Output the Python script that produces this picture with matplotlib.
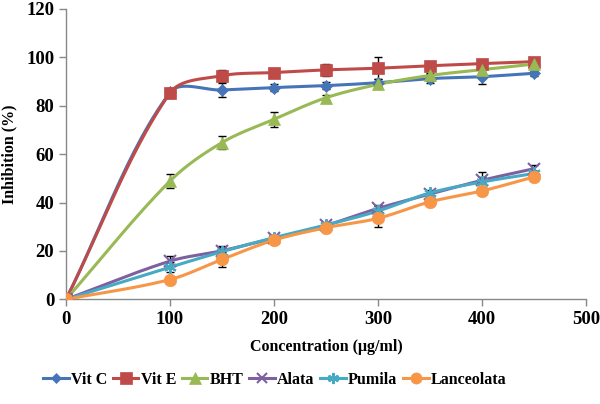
import numpy as np
import matplotlib
matplotlib.use("Agg")
import matplotlib.pyplot as plt

# data
conc = [0, 100, 150, 200, 250, 300, 350, 400, 450]
series_names = ["Vit C", "Vit E", "BHT", "Alata", "Pumila", "Lanceolata"]
vit_c = [0, 85.5, 86.5, 87.5, 88.3, 89.5, 91.2, 92.0, 93.4]
vit_e = [0, 85.3, 92.4, 93.7, 94.8, 95.5, 96.5, 97.4, 98.2]
bht = [0, 48.9, 64.8, 74.4, 83.3, 88.8, 92.5, 94.9, 97.2]
alata = [0, 15.8, 20.1, 25.3, 30.6, 37.6, 43.5, 49.2, 54.0]
pumila = [0, 13.3, 19.7, 25.5, 30.7, 36.5, 44.0, 48.5, 52.0]
lanceolata = [0, 8.2, 16.5, 24.5, 29.6, 33.5, 40.3, 44.8, 50.6]

err_vit_c = [0, 1.5, 3, 1.5, 1.5, 1.5, 2, 3, 1]
err_vit_e = [0, 2, 2.5, 1, 2.5, 4.5, 1, 1.5, 1]
err_bht = [0, 3, 2.5, 3, 1, 1, 1, 1, 1]
err_alata = [0, 2, 2, 1, 1, 1.5, 1, 3.5, 1.5]
err_pumila = [0, 2, 2, 1, 1, 2, 1, 2, 1]
err_lanceolata = [0, 1, 3, 1, 1, 3.5, 1.5, 1, 1]

colors = ["#4674B8", "#BE4B48", "#98B954", "#7D60A0", "#46AAC5", "#F79646"]
markers = ["D", "s", "^", "x", (6, 2, 0), "o"]
msizes = [6, 9, 9, 8, 9, 9]

# pixels per data unit, so the smoothing is done in screen space like Excel
SX, SY = 1.04, 2.42


def smooth(x, y, n=30):
    # Excel-style smoothed line: bezier through the points, tangents weighted by segment length
    p = np.column_stack([np.asarray(x) * SX, np.asarray(y) * SY]).astype(float)
    p = np.vstack([p[0], p, p[-1]])
    out = []
    for i in range(1, len(p) - 2):
        p0, p1, p2, p3 = p[i - 1], p[i], p[i + 1], p[i + 2]
        d01 = np.hypot(*(p1 - p0))
        d12 = np.hypot(*(p2 - p1))
        d23 = np.hypot(*(p3 - p2))
        c1 = p1 + (p2 - p0) * d12 / (3.0 * (d01 + d12))
        c2 = p2 - (p3 - p1) * d12 / (3.0 * (d12 + d23))
        t = np.linspace(0, 1, n)[:, None]
        b = ((1 - t) ** 3) * p1 + 3 * ((1 - t) ** 2) * t * c1 + 3 * (1 - t) * t ** 2 * c2 + t ** 3 * p2
        out.append(b)
    out = np.vstack(out)
    return out[:, 0] / SX, out[:, 1] / SY


plt.rcParams['font.family'] = ['Liberation Serif', 'DejaVu Serif']
plt.rcParams['font.weight'] = 'bold'

fig = plt.figure(figsize=(6, 4.04), dpi=100)
ax = fig.add_axes([0.11, 0.259, 0.867, 0.719])

all_y = [vit_c, vit_e, bht, alata, pumila, lanceolata]
all_err = [err_vit_c, err_vit_e, err_bht, err_alata, err_pumila, err_lanceolata]

handles = []
for name, y, e, c, m, ms in zip(series_names, all_y, all_err, colors, markers, msizes):
    ax.errorbar(conc, y, yerr=e, fmt='none', ecolor='black', elinewidth=1, capsize=3, capthick=1, zorder=2)
    sx, sy = smooth(conc, y)
    ax.plot(sx, sy, color=c, lw=2.2, zorder=3)
    mew = 1.5 if m in ("x",) or isinstance(m, tuple) else 0.5
    ax.plot(conc, y, ls='none', marker=m, color=c, ms=ms, mew=mew, mec=c, zorder=4)
    h, = ax.plot([], [], color=c, lw=2.2, marker=m, ms=ms - 1, mew=mew, mec=c, label=name)
    handles.append(h)

ax.set_xlim(0, 500)
ax.set_ylim(0, 120)
ax.set_xticks(range(0, 501, 100))
ax.set_yticks(range(0, 121, 20))
for s in ['top', 'right']:
    ax.spines[s].set_visible(False)
for s in ['left', 'bottom']:
    ax.spines[s].set_color('#888888')
    ax.spines[s].set_linewidth(1)
ax.tick_params(axis='both', colors='#888888', labelcolor='black', labelsize=13.5, length=5, width=1)
for lab in ax.get_xticklabels() + ax.get_yticklabels():
    lab.set_fontweight('bold')

ax.set_xlabel("Concentration (μg/ml)", fontsize=11.5, fontweight='bold', labelpad=8)
ax.set_ylabel("Inhibition (%)", fontsize=11.5, fontweight='bold', labelpad=6)

fig.legend(handles=handles, loc='center', bbox_to_anchor=(0.458, 0.06), ncol=6, frameon=False,
           prop={'size': 11.5, 'weight': 'bold'}, handlelength=1.6, handletextpad=0.15, columnspacing=0.35)

fig.savefig("out.png", dpi=100)
